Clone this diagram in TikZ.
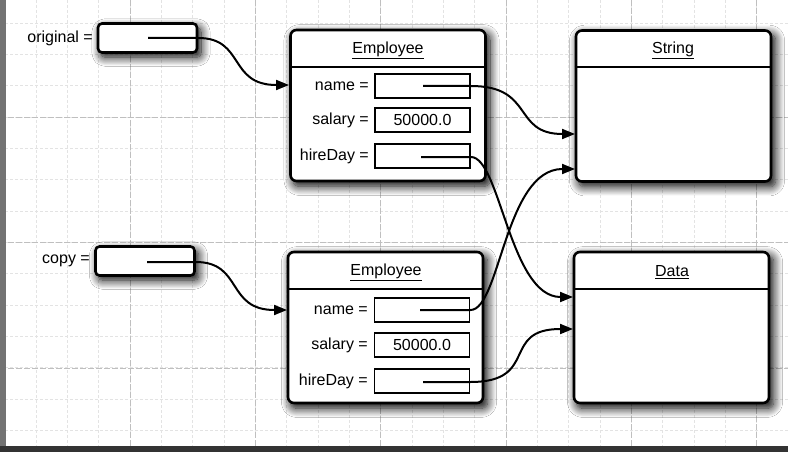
\documentclass[tikz,border=0pt]{standalone}
\usepackage{fontspec}
\setmainfont{Liberation Sans}
\usetikzlibrary{shadows.blur,arrows.meta}
\begin{document}
\begin{tikzpicture}[x=1pt,y=-1pt,
  txt/.style={font=\fontsize{16}{18}\selectfont, inner sep=0pt},
  lbl/.style={txt, anchor=east},
  shad/.style={blur shadow={shadow xshift=3.5pt, shadow yshift=-4.5pt, shadow blur radius=9pt, shadow blur steps=12, shadow opacity=100, shadow scale=1.01}},
  refbox/.style={draw, line width=2.6pt, rounded corners=4pt, fill=white, shad, minimum width=99pt, minimum height=29pt, inner sep=0pt},
  objbox/.style={draw, line width=2.6pt, rounded corners=6pt, fill=white, shad, minimum width=195pt, minimum height=151pt, inner sep=0pt},
  field/.style={draw, line width=1.9pt, fill=white, minimum width=95pt, minimum height=24pt, inner sep=0pt, txt},
  sep/.style={line width=1.9pt},
  ptr/.style={line width=2pt, -{Triangle[length=13pt,width=10pt]}},
  minorgrid/.style={gray!22, line width=0.5pt, dash pattern=on 3pt off 2pt},
  majorgrid/.style={gray!50, line width=0.7pt, dash pattern=on 6pt off 2pt}
]
\useasboundingbox (0,0) rectangle (788,452);
\fill[white] (0,0) rectangle (788,452);
% grid
\begin{scope}
\clip (0,0) rectangle (788,452);
\foreach \i in {-4,...,21} \draw[minorgrid] ({130+31.33*\i},0) -- ++(0,452);
\foreach \j in {-4,...,11} \draw[minorgrid] (0,{117+31.33*\j}) -- ++(788,0);
\foreach \i in {-1,...,5} \draw[majorgrid] ({130+125.3*\i},0) -- ++(0,452);
\foreach \j in {-1,...,2} \draw[majorgrid] (0,{117+125.5*\j}) -- ++(788,0);
\end{scope}
% page edges
\fill[black!55] (0,0) rectangle (6,452);
\fill[black!80] (0,446) rectangle (788,452);

% reference variables
\node[refbox] (orig) at (147.5,38) {};
\node[lbl] (origlbl) at (93,38) {original =};
\node[refbox] (copy) at (145,261) {};
\node[lbl] (copylbl) at (90,261) {copy =};

% objects
\node[objbox] (e1) at (388,105.5) {};
\node[objbox] (str) at (673.5,106) {};
\node[objbox] (e2) at (385.5,327.5) {};
\node[objbox] (date) at (671.5,327.5) {};

\draw[sep] (e1.west |- 0,67) -- (e1.east |- 0,67);
\draw[sep] (str.west |- 0,67) -- (str.east |- 0,67);
\draw[sep] (e2.west |- 0,289) -- (e2.east |- 0,289);
\draw[sep] (date.west |- 0,289) -- (date.east |- 0,289);

\node[txt] (e1t) at (388,50) {\underline{Employee}};
\node[txt] (strt) at (673,50) {\underline{String}};
\node[txt] (e2t) at (386,272) {\underline{Employee}};
\node[txt] (datet) at (672,272) {\underline{Data}};

% fields of first Employee
\node[field] (n1) at (422.5,86) {};
\node[field] (s1) at (422.5,120) {50000.0};
\node[field] (h1) at (422.5,156) {};
\node[lbl] (n1l) at (369,86) {name =};
\node[lbl] (s1l) at (369,120) {salary =};
\node[lbl] (h1l) at (369,156) {hireDay =};

% fields of second Employee
\node[field] (n2) at (422,310) {};
\node[field] (s2) at (422,345) {50000.0};
\node[field] (h2) at (422,381) {};
\node[lbl] (n2l) at (368,310) {name =};
\node[lbl] (s2l) at (368,345) {salary =};
\node[lbl] (h2l) at (368,381) {hireDay =};

% pointer origins and targets
\coordinate (po) at (148,38);
\coordinate (pc) at (147,262);
\coordinate (pn1) at (423,86);
\coordinate (ph1) at (421,157);
\coordinate (pn2) at (420,310);
\coordinate (ph2) at (423,382);
\coordinate (to) at (289,85);
\coordinate (tc) at (287,310);
\coordinate (ts1) at (575,134);
\coordinate (ts2) at (575,169);
\coordinate (td1) at (573,297);
\coordinate (td2) at (573,329);

\draw[ptr] (po) -- (po -| orig.east) .. controls (245,38) and (228,85) .. (to);
\draw[ptr] (pc) -- (pc -| copy.east) .. controls (243,262) and (226,310) .. (tc);
\draw[ptr] (pn1) -- (pn1 -| n1.east) .. controls (535,86) and (512,134) .. (ts1);
\draw[ptr] (ph1) -- (ph1 -| h1.east) .. controls (500,157) and (510,297) .. (td1);
\draw[ptr] (pn2) -- (pn2 -| n2.east) .. controls (500,310) and (505,169) .. (ts2);
\draw[ptr] (ph2) -- (ph2 -| h2.east) .. controls (540,382) and (500,329) .. (td2);
\end{tikzpicture}
\end{document}
